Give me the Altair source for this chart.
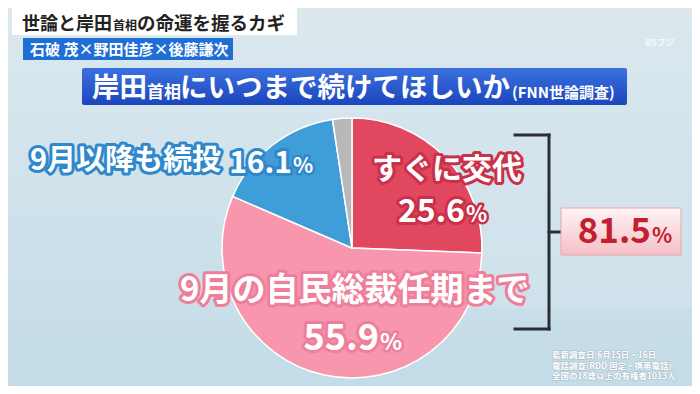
import altair as alt
import pandas as pd

# ---------------- data ----------------
categories = ["すぐに交代", "9月の自民総裁任期まで", "9月以降も続投", "その他"]
values = [25.6, 55.9, 16.1, 2.4]
slice_order = [1, 2, 3, 4]
slice_colors = ["#E1475E", "#F796AD", "#3F9DD7", "#B8B8B8"]

label_texts = ["すぐに交代", "9月の自民総裁任期まで", "9月以降も続投"]
value_texts = ["25.6", "55.9", "16.1"]
total_text = "81.5"

title_parts = ["世論と岸田", "首相", "の命運を握るカギ"]
tag_text = "石破 茂×野田佳彦×後藤謙次"
banner_parts = ["岸田", "首相", "にいつまで続けてほしいか", "(FNN世論調査)"]
footnotes = ["最新調査日:6月15日・16日", "電話調査(RDD 固定・携帯電話)", "全国の18歳以上の有権者1013人"]

FONT = "Noto Sans CJK JP"
W, H = 684, 378
one = pd.DataFrame({"a": [0]})


def box(x1, x2, y1, y2, fill, **kw):
    return alt.Chart(one).mark_rect(fill=fill, **kw).encode(
        x=alt.value(x1), x2=alt.value(x2), y=alt.value(y1), y2=alt.value(y2))


def rule(x1, x2, y1, y2, color="#2B2F33", w=3):
    return alt.Chart(one).mark_rule(color=color, strokeWidth=w, strokeCap="square").encode(
        x=alt.value(x1), x2=alt.value(x2), y=alt.value(y1), y2=alt.value(y2))


def label(text, x, y, size, color="white", align="left", baseline="middle",
          stroke=None, sw=0, weight="bold", opacity=1.0, stroke_opacity=1.0):
    df = pd.DataFrame({"t": [text]})
    kw = dict(align=align, baseline=baseline, fontSize=size, font=FONT, fontWeight=weight)
    out = []
    if stroke:
        out.append(alt.Chart(df).mark_text(**kw, color=stroke, stroke=stroke, strokeWidth=sw,
                                           strokeJoin="round", opacity=stroke_opacity).encode(
            x=alt.value(x), y=alt.value(y), text="t:N"))
    out.append(alt.Chart(df).mark_text(**kw, color=color, opacity=opacity).encode(
        x=alt.value(x), y=alt.value(y), text="t:N"))
    return out


def number(value, pct_x, y, size, pct_size, color="white", stroke=None, sw=0):
    # digits right-aligned against the smaller percent sign
    out = label(value, pct_x - 1, y, size, color=color, align="right",
                baseline="alphabetic", stroke=stroke, sw=sw)
    out += label("%", pct_x, y, pct_size, color=color, align="left",
                 baseline="alphabetic", stroke=stroke, sw=max(sw - 1, 0))
    return out


layers = []

# background
layers.append(box(0, W, 0, H, alt.Gradient(
    gradient="linear", x1=0, x2=0, y1=0, y2=1,
    stops=[alt.GradientStop(offset=0, color="#DCE8EE"),
           alt.GradientStop(offset=1, color="#C3DCE7")])))
layers.append(box(380, W, 95, 300, "#D3E5ED", opacity=0.6))

# top title box
layers.append(box(4, 289, 0, 27, "white"))
layers += label(title_parts[0], 14, 21.5, 18, color="#222222", baseline="alphabetic")
layers += label(title_parts[1], 105, 22, 12, color="#222222", baseline="alphabetic")
layers += label(title_parts[2], 129, 21.5, 18.5, color="#222222", baseline="alphabetic")

# blue tag
layers.append(box(15, 225, 30, 52, "#1F6ED6"))
layers += label(tag_text, 22, 41.5, 15, weight="bold")

# banner
layers.append(box(74, 619, 60, 97, alt.Gradient(
    gradient="linear", x1=0, x2=0, y1=0, y2=1,
    stops=[alt.GradientStop(offset=0, color="#3B70E0"),
           alt.GradientStop(offset=1, color="#1C46BC")]), cornerRadius=2))
layers += label(banner_parts[0], 84, 88.5, 27.5, baseline="alphabetic")
layers += label(banner_parts[1], 139, 90, 17, baseline="alphabetic")
layers += label(banner_parts[2], 172, 88.5, 27.5, baseline="alphabetic")
layers += label(banner_parts[3], 504, 89.5, 15, baseline="alphabetic")

# logo
layers += label("BSフジ", 637, 35, 9, opacity=0.8)

# pie
pie_df = pd.DataFrame({"category": categories, "value": values, "order": slice_order})
layers.append(alt.Chart(pie_df).mark_arc(outerRadius=130, stroke="white", strokeWidth=1.5).encode(
    theta=alt.Theta("value:Q", stack=True),
    color=alt.Color("category:N", scale=alt.Scale(domain=categories, range=slice_colors), legend=None),
    order=alt.Order("order:Q"),
    x=alt.value(344), y=alt.value(240)))

# slice labels
RED_O, PINK_O, BLUE_O = "#C93049", "#EE7F9A", "#2F88CC"
layers += label(label_texts[0], 364, 162, 30, stroke=RED_O, sw=6)
layers += number(value_texts[0], 458, 214, 32, 22, stroke=RED_O, sw=6)

layers += label(label_texts[2], 22, 153, 29, stroke=BLUE_O, sw=6)
layers += number(value_texts[2], 285, 165, 30, 21, stroke=BLUE_O, sw=6)

layers += label(label_texts[1], 172, 283, 33, stroke=PINK_O, sw=6)
layers += number(value_texts[1], 372, 342, 36, 23, stroke=PINK_O, sw=6)

# bracket
layers.append(rule(507, 541, 127, 127))
layers.append(rule(541, 541, 127, 321))
layers.append(rule(507, 541, 321, 321))
layers.append(rule(541, 554, 224, 224))

# total box
layers.append(box(553, 673, 200, 247, alt.Gradient(
    gradient="linear", x1=0, x2=0, y1=0, y2=1,
    stops=[alt.GradientStop(offset=0, color="#FFF4F5"),
           alt.GradientStop(offset=1, color="#F5BFC7")]), stroke="#E9A6B0", strokeWidth=1))
layers += number(total_text, 644, 235, 35, 21, color="#C21F2F")

# footnotes
for i, line in enumerate(footnotes):
    layers += label(line, 544, 347 + 10.5 * i, 8.5, stroke="#7E8F9A", sw=1.2, stroke_opacity=0.4)

chart = alt.layer(*layers).properties(
    width=W, height=H, padding=0,
    autosize=alt.AutoSizeParams(type="none"),
    background="#CFE2EC",
).configure_view(stroke=None)

chart.save("out.html", embed_options={"renderer": "svg", "actions": False})
